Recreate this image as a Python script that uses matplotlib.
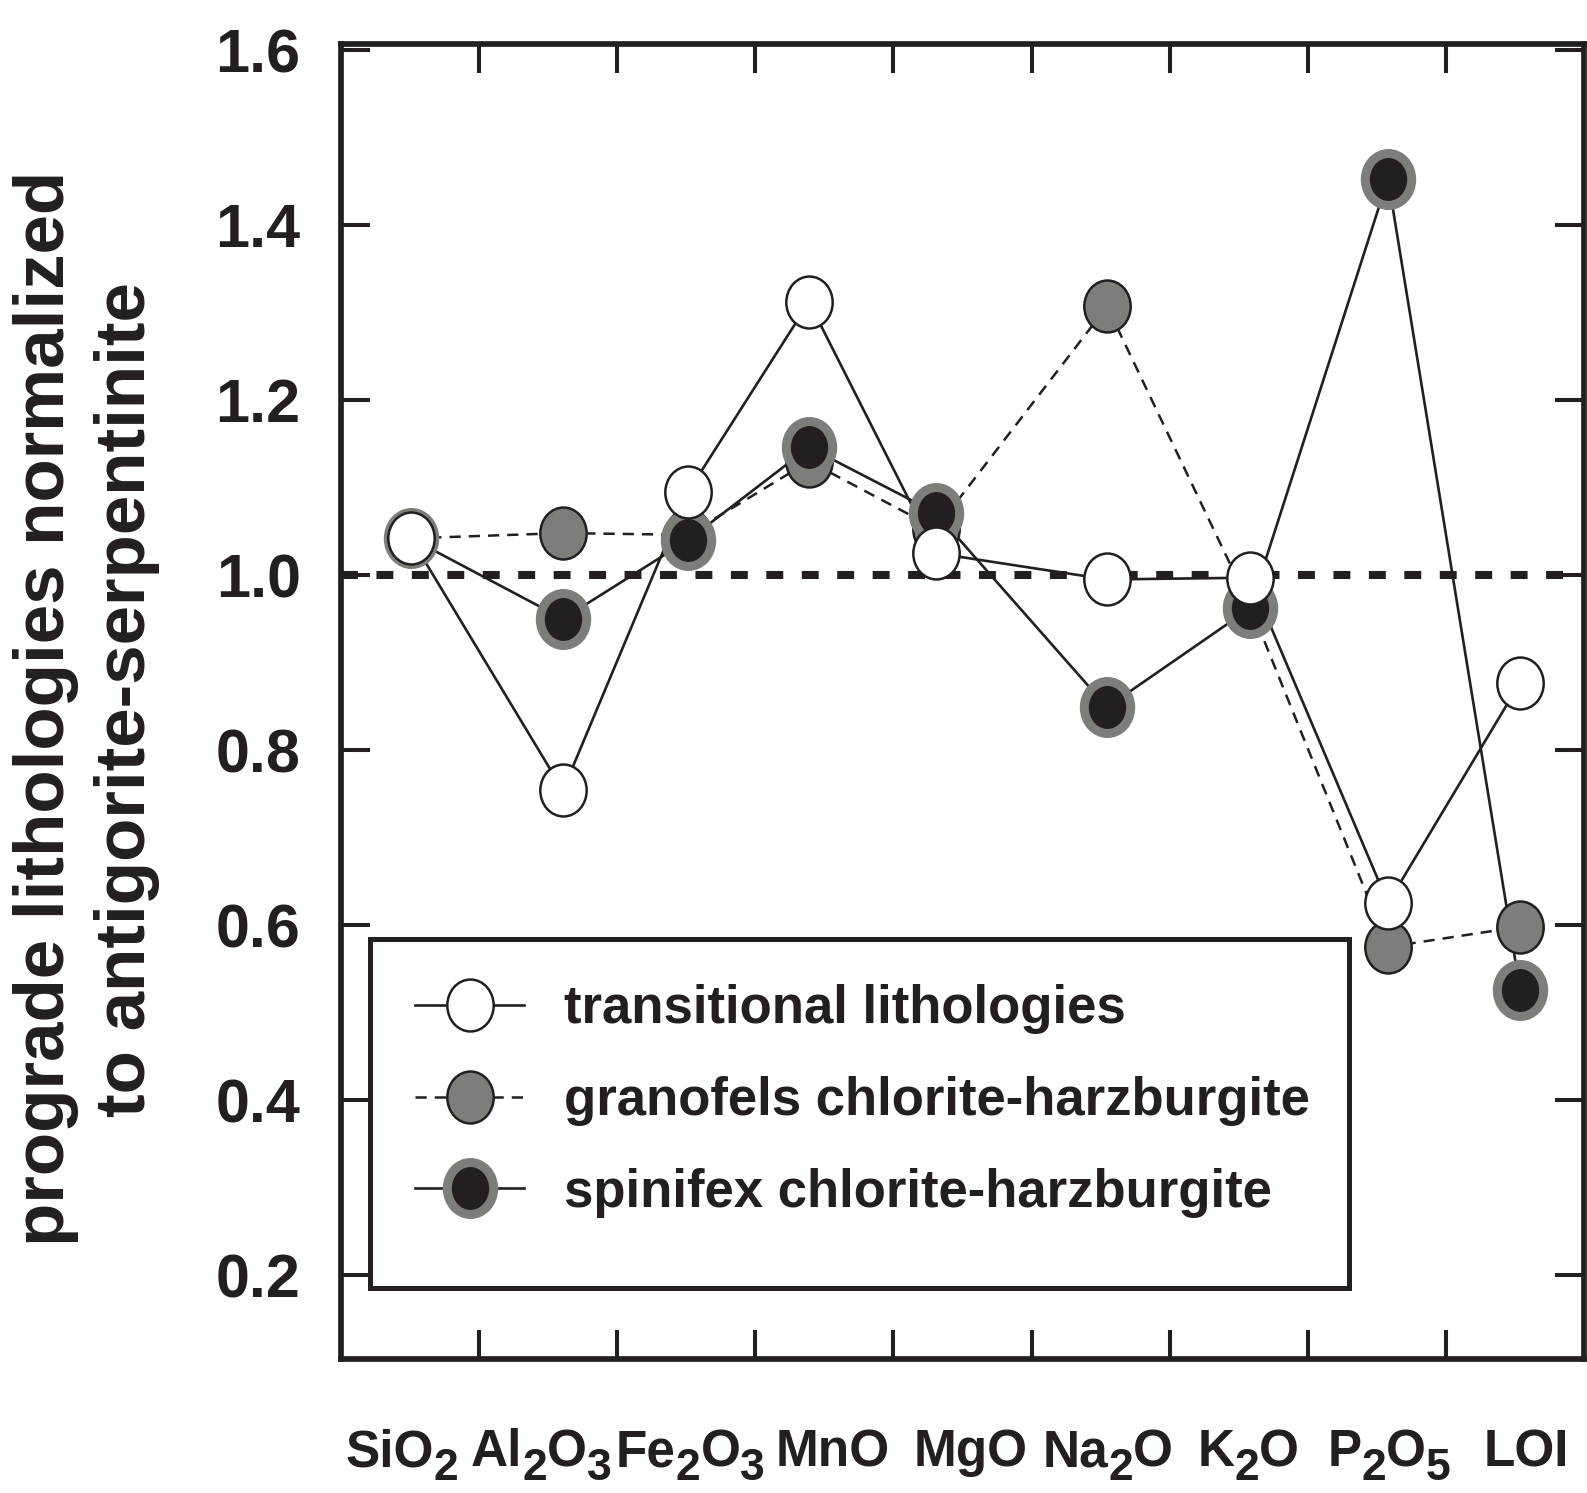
import re
import numpy as np
import matplotlib
matplotlib.use('Agg')
import matplotlib.pyplot as plt
from matplotlib.path import Path
from matplotlib.lines import Line2D
from matplotlib.patches import Rectangle
from matplotlib.offsetbox import TextArea, HPacker, VPacker, DrawingArea, AnnotationBbox

plt.rcParams['font.family'] = ['Liberation Sans', 'DejaVu Sans']
plt.rcParams['font.weight'] = 'bold'

# data
oxides = ['SiO_2', 'Al_2O_3', 'Fe_2O_3', 'MnO', 'MgO', 'Na_2O', 'K_2O', 'P_2O_5', 'LOI']
x_pos = [0.507, 1.607, 2.513, 3.389, 4.308, 5.547, 6.582, 7.581, 8.537]
label_pos = [0.442, 1.448, 2.531, 3.559, 4.558, 5.554, 6.568, 7.589, 8.581]
transitional = [1.042, 0.754, 1.095, 1.312, 1.025, 0.995, 0.997, 0.625, 0.877]
granofels = [1.042, 1.048, 1.046, 1.130, 1.053, 1.307, 0.965, 0.575, 0.598]
spinifex = [1.042, 0.950, 1.040, 1.146, 1.071, 0.849, 0.962, 1.453, 0.526]
series_names = ['transitional lithologies', 'granofels chlorite-harzburgite',
                'spinifex chlorite-harzburgite']
yticks = [0.2, 0.4, 0.6, 0.8, 1.0, 1.2, 1.4, 1.6]

k = '#231f20'
gray = '#7d7e79'

# elliptic marker (a bit taller than wide)
circ = Path.unit_circle()
ell = Path(circ.vertices * np.array([1 / 1.12, 1.0]), circ.codes)
ms = 37.4

fig = plt.figure(figsize=(15.87, 14.93), dpi=100)
ax = fig.add_axes([341 / 1587, 1 - 1359 / 1493, 1243 / 1587, 1315 / 1493])

ax.axhline(1.0, color=k, lw=5.8, ls=(0, (2.1, 2.3)), zorder=1.5)

# lines first, markers on top
ax.plot(x_pos, transitional, color=k, lw=1.9, zorder=2)
ax.plot(x_pos, granofels, color=k, lw=1.8, ls=(0, (4.5, 3.2)), zorder=2)
ax.plot(x_pos, spinifex, color=k, lw=1.9, zorder=2)

ax.plot(x_pos, granofels, ls='none', marker=ell, ms=ms, mfc=gray, mec=k, mew=1.8, zorder=3)
ax.plot(x_pos, spinifex, ls='none', marker=ell, ms=ms, mfc=k, mec=gray, mew=6.5, zorder=4)
ax.plot(x_pos, transitional, ls='none', marker=ell, ms=ms, mfc='white', mec=k, mew=1.8, zorder=5)

ax.set_xlim(0, 9)
ax.set_ylim(0.104, 1.607)
ax.set_xticks(range(1, 9))
ax.set_yticks(yticks)
ax.set_yticklabels(['%.1f' % v for v in yticks])
ax.tick_params(axis='both', direction='in', length=21, width=2.9, color=k,
               top=True, right=True)
ax.tick_params(axis='x', labelbottom=False)
ax.tick_params(axis='y', labelsize=44, pad=29, labelcolor=k)
for s in ax.spines.values():
    s.set_linewidth(4.1)
    s.set_color(k)

# oxide labels with near full-size subscripts
for name, xl in zip(oxides, label_pos):
    parts = re.split(r'_(\d)', name)
    boxes = []
    for i, p in enumerate(parts):
        if not p:
            continue
        if i % 2 == 0:
            boxes.append(TextArea(p, textprops=dict(fontsize=37, fontweight='bold', color=k)))
        else:
            sub = TextArea(p, textprops=dict(fontsize=32, fontweight='bold', color=k))
            boxes.append(VPacker(children=[DrawingArea(0, 14), sub], pad=0, sep=0, align='left'))
    pack = HPacker(children=boxes, pad=0, sep=0, align='top')
    ab = AnnotationBbox(pack, (xl, 0), xycoords=('data', 'axes fraction'),
                        xybox=(0, -50), boxcoords='offset points',
                        box_alignment=(0.5, 1), frameon=False, pad=0)
    ax.add_artist(ab)

# y label in two lines
fig.text(46 / 1587, 1 - 708 / 1493, 'prograde lithologies normalized', rotation=90,
         ha='center', va='center', fontsize=51, fontweight='bold', color=k)
fig.text(127 / 1587, 1 - 700 / 1493, 'to antigorite-serpentinite', rotation=90,
         ha='center', va='center', fontsize=51, fontweight='bold', color=k)

# legend
handles = [
    Line2D([], [], color=k, lw=1.9, marker=ell, ms=ms, mfc='white', mec=k, mew=1.8),
    Line2D([], [], color=k, lw=1.8, ls=(0, (4.5, 3.2)), marker=ell, ms=ms, mfc=gray, mec=k, mew=1.8),
    Line2D([], [], color=k, lw=1.9, marker=ell, ms=ms, mfc=k, mec=gray, mew=6.5),
]
leg = ax.legend(handles, series_names, loc='center left',
                bbox_to_anchor=(415 / 1587, 1 - 1101 / 1493), bbox_transform=fig.transFigure,
                frameon=False, borderpad=0, borderaxespad=0, handlelength=2.07,
                handletextpad=0.76, labelspacing=0.79, prop=dict(size=38, weight='bold'))
for t in leg.get_texts():
    t.set_color(k)
leg.set_zorder(8)
ax.add_patch(Rectangle((0.0233, 0.054), 0.7876, 0.2652, transform=ax.transAxes,
                       fc='white', ec=k, lw=3.6, zorder=7))

fig.savefig('out.png', dpi=100)
